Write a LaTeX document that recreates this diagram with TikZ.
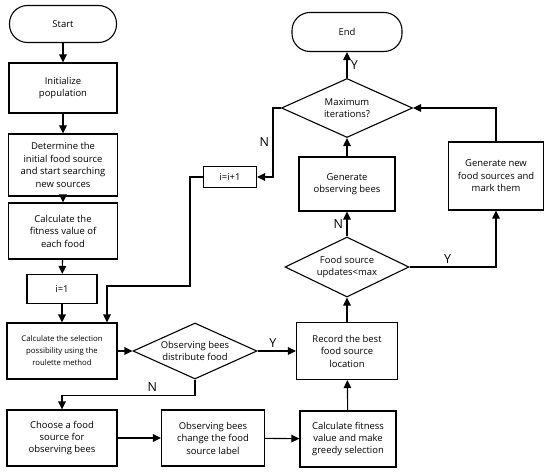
\documentclass[tikz,border=0pt]{standalone}
\usepackage{fontspec}
\setmainfont{Open Sans}
\usetikzlibrary{shapes.geometric,arrows.meta}
\begin{document}
\begin{tikzpicture}[x=1bp, y=-1bp,
    block/.style 2 args={draw, line width=1.1bp, align=center, inner sep=0pt,
      minimum width=#1bp, minimum height=#2bp, font=\fontsize{9.5}{12.5}\selectfont},
    terminal/.style 2 args={block={#1}{#2}, rounded corners=18bp},
    decide/.style 2 args={diamond, draw, line width=1.1bp, inner sep=0pt,
      minimum width=#1bp, minimum height=#2bp},
    txt/.style={align=center, font=\fontsize{9.5}{12.5}\selectfont},
    line/.style={line width=1.1bp, -{Triangle[length=8bp, width=7.5bp]}},
    yn/.style={font=\fontsize{12.5}{12.5}\selectfont}]
  \useasboundingbox (0,0) rectangle (550,473);
  % left column
  \node[terminal={107}{37}] (start) at (63,24) {Start};
  \node[block={108}{50}] (init) at (63,88) {Initialize\\population};
  \node[block={109}{62}] (determ) at (63,165) {Determine the\\initial food source\\and start searching\\new sources};
  \node[block={109}{56}] (fitness) at (63,231) {Calculate the\\fitness value of\\each food};
  \node[block={70}{29}] (ione) at (62,289) {i=1};
  \node[block={110}{56}, font=\fontsize{7.8}{12}\selectfont] (select) at (62,351) {Calculate the selection\\possibility using the\\roulette method};
  \node[decide={124}{56}, label={[txt]center:Observing bees\\distribute food}] (distrib) at (195,351) {};
  % bottom row
  \node[block={110}{56}] (choose) at (62,438) {Choose a food\\source for\\observing bees};
  \node[block={103}{56}] (change) at (213,438) {Observing bees\\change the food\\source label};
  \node[block={96}{56}] (greedy) at (348,439) {Calculate fitness\\value and make\\greedy selection};
  % right column
  \node[block={101}{57}] (record) at (347,351) {Record the best\\food source\\location};
  \node[decide={124}{60}, label={[txt]center:Food source\\updates<max}] (updates) at (347,267) {};
  \node[block={96}{54}] (genobs) at (347,184) {Generate\\observing bees};
  \node[block={95}{68}] (gennew) at (496,176) {Generate new\\food sources and\\mark them};
  \node[decide={131}{59}, label={[txt]center:Maximum\\iterations?}] (maxiter) at (347,108) {};
  \node[terminal={110}{39}] (finish) at (347,32) {End};
  \node[block={53}{21}] (incr) at (230,177) {i=i+1};
  % connectors
  \draw[line] (start) -- (init);
  \draw[line] (init) -- (determ);
  \draw[line] (determ) -- (fitness);
  \draw[line] (fitness) -- (ione);
  \draw[line] (ione) -- (select);
  \draw[line] (select) -- (distrib);
  \draw[line] (distrib) -- node[yn, above, pos=0.4] {Y} (record);
  \draw[line] (distrib.south) -- ++(0,16) -| node[yn, above, pos=0.16] {N} (choose.north);
  \draw[line] (choose) -- (change);
  \draw[line] (change) -- (greedy);
  \draw[line] (greedy) -- (record);
  \draw[line] (record) -- (updates);
  \draw[line] (updates) -- node[yn, left] {N} (genobs);
  \draw[line] (genobs) -- (maxiter);
  \draw[line] (maxiter) -- node[yn, right] {Y} (finish);
  \draw[line] (updates.east) -| node[yn, above, pos=0.22] {Y} (gennew.south);
  \draw[line] (gennew.north) |- (maxiter.east);
  \draw[line] (maxiter.west) -- ++(-8,0) |- node[yn, left, pos=0.25] {N} (incr.east);
  \draw[line] (incr.west) -- ++(-13,0) -- ++(0,109) -| ([xshift=45bp]select.north);
\end{tikzpicture}
\end{document}
